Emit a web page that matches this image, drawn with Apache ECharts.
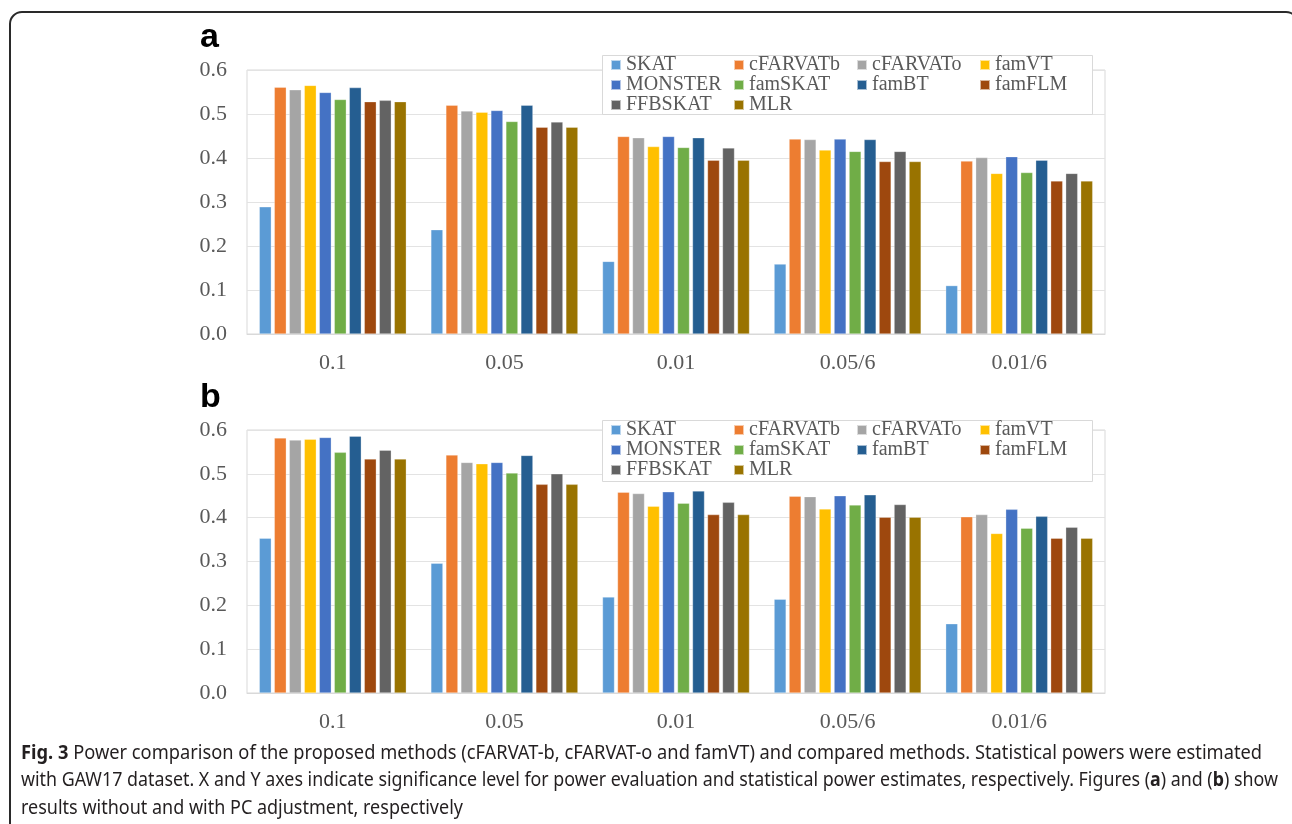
<!DOCTYPE html>
<html>
<head>
<meta charset="utf-8">
<script src="https://cdn.jsdelivr.net/npm/echarts@6/dist/echarts.min.js"></script>
<style>
  html, body { margin: 0; padding: 0; background: #fff; }
  #frame { position: absolute; left: 9px; top: 11px; width: 1290px; height: 860px;
           border: 2px solid #2a2a2a; border-radius: 13px; box-sizing: border-box; }
  #chart { position: absolute; left: 0; top: 0; width: 1292px; height: 824px; }
  .cap { position: absolute; left: 21px; font-family: "Noto Sans", "Open Sans", sans-serif;
         font-size: 20px; color: #231f20; white-space: nowrap; transform-origin: 0 0; line-height: 24px; }
</style>
</head>
<body>
<div id="frame"></div>
<div id="chart"></div>
<div class="cap" id="cap1" style="top:740px"><b>Fig. 3</b> Power comparison of the proposed methods (cFARVAT-b, cFARVAT-o and famVT) and compared methods. Statistical powers were estimated</div>
<div class="cap" id="cap2" style="top:767px">with GAW17 dataset. X and Y axes indicate significance level for power evaluation and statistical power estimates, respectively. Figures (<b>a</b>) and (<b>b</b>) show</div>
<div class="cap" id="cap3" style="top:795px">results without and with PC adjustment, respectively</div>
<script>
// ---- data ----
const categories = ['0.1', '0.05', '0.01', '0.05/6', '0.01/6'];
const methods = ['SKAT', 'cFARVATb', 'cFARVATo', 'famVT', 'MONSTER', 'famSKAT', 'famBT', 'famFLM', 'FFBSKAT', 'MLR'];
const yTicks = [0, 0.1, 0.2, 0.3, 0.4, 0.5, 0.6];

// Panel a (without PC adjustment)
const a_SKAT     = [0.289, 0.237, 0.165, 0.159, 0.110];
const a_cFARVATb = [0.561, 0.520, 0.449, 0.443, 0.393];
const a_cFARVATo = [0.555, 0.507, 0.446, 0.442, 0.401];
const a_famVT    = [0.565, 0.504, 0.426, 0.418, 0.365];
const a_MONSTER  = [0.549, 0.508, 0.449, 0.443, 0.403];
const a_famSKAT  = [0.533, 0.483, 0.424, 0.415, 0.367];
const a_famBT    = [0.560, 0.520, 0.446, 0.442, 0.395];
const a_famFLM   = [0.528, 0.470, 0.395, 0.392, 0.348];
const a_FFBSKAT  = [0.531, 0.482, 0.423, 0.415, 0.365];
const a_MLR      = [0.528, 0.470, 0.395, 0.392, 0.348];

// Panel b (with PC adjustment)
const b_SKAT     = [0.353, 0.296, 0.219, 0.214, 0.158];
const b_cFARVATb = [0.582, 0.543, 0.458, 0.449, 0.402];
const b_cFARVATo = [0.577, 0.526, 0.455, 0.448, 0.407];
const b_famVT    = [0.579, 0.523, 0.426, 0.420, 0.364];
const b_MONSTER  = [0.583, 0.526, 0.459, 0.450, 0.419];
const b_famSKAT  = [0.549, 0.502, 0.433, 0.429, 0.376];
const b_famBT    = [0.586, 0.542, 0.461, 0.452, 0.403];
const b_famFLM   = [0.534, 0.476, 0.407, 0.401, 0.353];
const b_FFBSKAT  = [0.554, 0.500, 0.435, 0.430, 0.378];
const b_MLR      = [0.534, 0.476, 0.407, 0.401, 0.353];

const colors = ['#5B9BD5', '#ED7D31', '#A5A5A5', '#FFC000', '#4472C4', '#70AD47', '#255E91', '#9E480E', '#636363', '#997300'];

const panelA = [a_SKAT, a_cFARVATb, a_cFARVATo, a_famVT, a_MONSTER, a_famSKAT, a_famBT, a_famFLM, a_FFBSKAT, a_MLR];
const panelB = [b_SKAT, b_cFARVATb, b_cFARVATo, b_famVT, b_MONSTER, b_famSKAT, b_famBT, b_famFLM, b_FFBSKAT, b_MLR];

// ---- chart ----
const serif = '"Liberation Serif", "Times New Roman", serif';
const grids = [
  { left: 247, top: 70, width: 858, height: 264 },
  { left: 247, top: 430, width: 858, height: 263 }
];

function xAxis(i) {
  return {
    type: 'category', gridIndex: i, data: categories,
    axisLine: { show: true, lineStyle: { color: '#D9D9D9' } },
    axisTick: { show: false },
    axisLabel: { fontFamily: serif, fontSize: 22, color: '#595959', margin: 18 }
  };
}
function yAxis(i) {
  return {
    type: 'value', gridIndex: i, min: 0, max: 0.6, interval: 0.1,
    axisLine: { show: false }, axisTick: { show: false },
    splitLine: { lineStyle: { color: '#E3E3E3' } },
    axisLabel: { fontFamily: serif, fontSize: 22, color: '#595959', margin: 20,
                 formatter: v => v.toFixed(1) }
  };
}
function legend(top) {
  return {
    data: methods, left: 610, top: top, width: 600,
    orient: 'horizontal', icon: 'rect', itemWidth: 10, itemHeight: 10, itemGap: 0,
    padding: 0,
    formatter: name => '{n|' + name + '}',
    textStyle: {
      fontFamily: serif, fontSize: 20, color: '#595959',
      rich: { n: { width: 107, height: 20, lineHeight: 20, fontFamily: serif, fontSize: 20, color: '#595959' } }
    },
    selectedMode: false, z: 10
  };
}
function legendBox(y, h) {
  return {
    type: 'rect', left: 602, top: y, z: 9,
    shape: { width: 490, height: h },
    style: { fill: '#fff', stroke: '#D9D9D9', lineWidth: 1 }
  };
}

const series = [];
[panelA, panelB].forEach((panel, p) => {
  panel.forEach((vals, k) => {
    series.push({
      name: methods[k], type: 'bar', xAxisIndex: p, yAxisIndex: p,
      data: vals, barWidth: 12, barGap: '25%',
      itemStyle: { color: colors[k], borderColor: 'rgba(255,255,255,0.6)', borderWidth: 0.5 },
      silent: true
    });
  });
});

const chart = echarts.init(document.getElementById('chart'), null, { renderer: 'canvas' });
chart.setOption({
  animation: false,
  color: colors,
  title: [
    { text: 'a', left: 200, top: 21, textStyle: { fontFamily: '"Liberation Sans", Arial, sans-serif', fontSize: 34, fontWeight: 'bold', color: '#000' }, padding: 0 },
    { text: 'b', left: 200, top: 381, textStyle: { fontFamily: '"Liberation Sans", Arial, sans-serif', fontSize: 34, fontWeight: 'bold', color: '#000' }, padding: 0 }
  ],
  grid: grids.map(g => Object.assign({ show: true, borderColor: '#D9D9D9', borderWidth: 1, backgroundColor: 'transparent' }, g)),
  xAxis: [xAxis(0), xAxis(1)],
  yAxis: [yAxis(0), yAxis(1)],
  legend: [legend(55), legend(420)],
  graphic: [legendBox(55, 59), legendBox(420, 61)],
  series: series
});

// fit each caption line to the reference line width
const capWidths = { cap1: 1241, cap2: 1257, cap3: 442 };
Object.keys(capWidths).forEach(id => {
  const el = document.getElementById(id);
  const s = capWidths[id] / el.getBoundingClientRect().width;
  el.style.transform = 'scaleX(' + s.toFixed(4) + ')';
});
</script>
</body>
</html>
